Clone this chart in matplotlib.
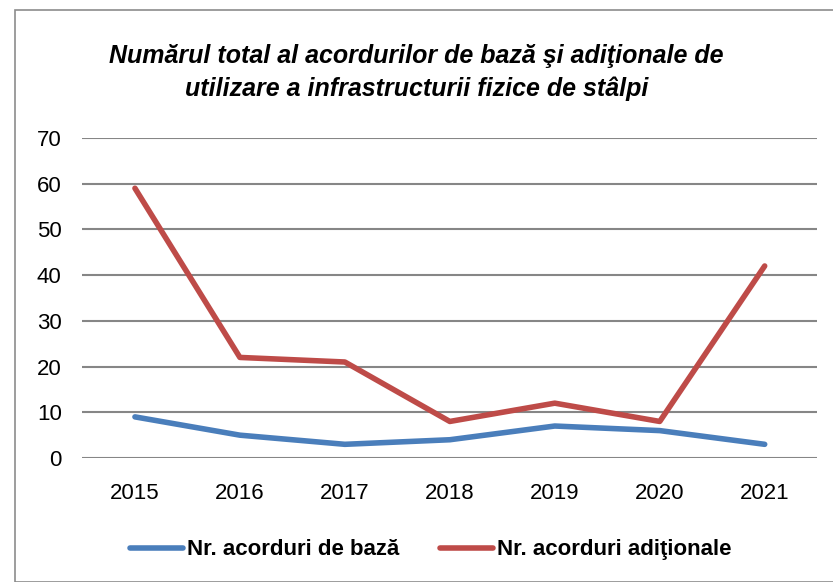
import matplotlib.pyplot as plt
import numpy as np
from matplotlib.patches import Rectangle

years = ["2015", "2016", "2017", "2018", "2019", "2020", "2021"]
baza = [9, 5, 3, 4, 7, 6, 3]
aditionale = [59, 22, 21, 8, 12, 8, 42]

plt.rcParams["font.family"] = ["Liberation Sans", "DejaVu Sans"]

fig = plt.figure(figsize=(8.33, 5.82), dpi=100)
fig.patches.append(Rectangle((15 / 833, 0), 1, 1 - 10 / 582, transform=fig.transFigure,
                             fill=False, edgecolor="#8c8c8c", linewidth=1.2))
ax = fig.add_axes([0.099, 0.213, 0.882, 0.550])

x = np.arange(len(years))
ax.plot(x, baza, color="#4a7ebb", linewidth=4, label="Nr. acorduri de bază", solid_capstyle="round")
ax.plot(x, aditionale, color="#be4b48", linewidth=4, label="Nr. acorduri adiţionale", solid_capstyle="round")

ax.set_xlim(-0.5, len(years) - 0.5)
ax.set_ylim(0, 70)
ax.set_yticks(range(0, 71, 10))
ax.set_xticks(x)
ax.set_xticklabels(years)
ax.tick_params(axis="both", length=0, labelsize=16)
ax.tick_params(axis="x", pad=18)
ax.tick_params(axis="y", pad=15)
ax.grid(axis="y", color="#868686", linewidth=1.5)
ax.set_axisbelow(True)
for s in ["top", "right", "left", "bottom"]:
    ax.spines[s].set_visible(False)

fig.text(0.50, 0.875, "Numărul total al acordurilor de bază şi adiţionale de\nutilizare a infrastructurii fizice de stâlpi",
         ha="center", va="center", fontsize=18, fontweight="bold", fontstyle="italic", linespacing=1.45)

fig.legend(loc="center", bbox_to_anchor=(0.517, 0.055), ncol=2, frameon=False,
           prop={"size": 16, "weight": "bold"}, handlelength=2.4, handletextpad=0.2, columnspacing=1.8)

fig.savefig("out.png", dpi=100)
